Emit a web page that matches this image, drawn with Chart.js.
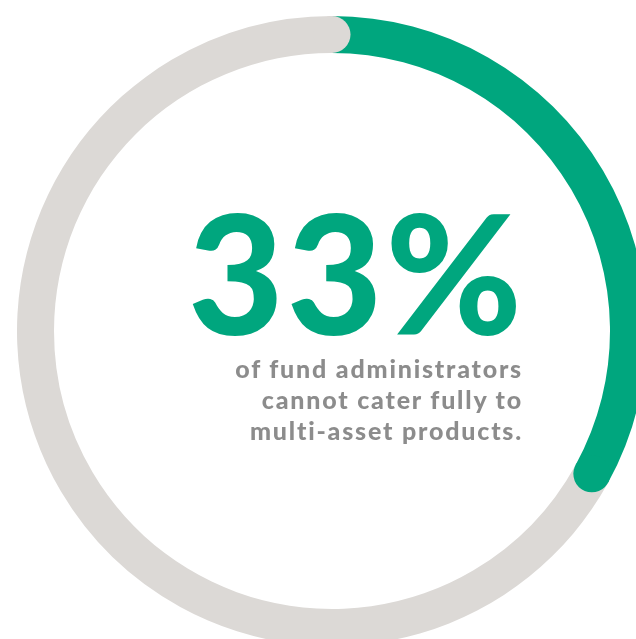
<!DOCTYPE html>
<html>
<head>
<meta charset="utf-8">
<script src="https://cdn.jsdelivr.net/npm/chart.js@4.4.1/dist/chart.umd.min.js"></script>
<style>
  html, body { margin: 0; padding: 0; background: #fff; }
  body { width: 636px; height: 639px; overflow: hidden; position: relative; }
  #ring { position: absolute; left: 17px; top: 16px; }
  .big {
    position: absolute; left: 188px; top: 189px;
    font-family: Lato, sans-serif; font-weight: 900; font-size: 165px;
    color: #00a67e; line-height: 1; letter-spacing: 3px;
  }
  .sub {
    position: absolute; right: 113px; top: 353px; text-align: right;
    font-family: Lato, sans-serif; font-weight: 900; font-size: 25px;
    line-height: 31px; color: #8c8c8c; letter-spacing: 1.8px;
  }
</style>
</head>
<body>
<canvas id="ring" width="630" height="630"></canvas>
<div class="big">33%</div>
<div class="sub">of fund administrators<br>cannot cater fully to<br>multi-asset products.</div>
<script>
// share of fund administrators
var labels = ['Cannot cater fully to multi-asset products', 'Can cater fully'];
var values = [33, 67];
var colours = ['#00a67e', '#dcd9d6'];

// rounded end on each segment, drawn over the start of the next one
var roundEnds = {
  id: 'roundEnds',
  afterDatasetsDraw: function (chart) {
    var ctx = chart.ctx;
    chart.getDatasetMeta(0).data.forEach(function (arc, i) {
      var p = arc.getProps(['x', 'y', 'endAngle', 'innerRadius', 'outerRadius']);
      var mid = (p.innerRadius + p.outerRadius) / 2;
      var r = (p.outerRadius - p.innerRadius) / 2;
      ctx.save();
      ctx.fillStyle = colours[i];
      ctx.beginPath();
      ctx.arc(p.x + Math.cos(p.endAngle) * mid, p.y + Math.sin(p.endAngle) * mid, r, 0, Math.PI * 2);
      ctx.fill();
      ctx.restore();
    });
  }
};

new Chart(document.getElementById('ring'), {
  type: 'doughnut',
  data: {
    labels: labels,
    datasets: [{
      data: values,
      backgroundColor: colours,
      borderWidth: 0
    }]
  },
  options: {
    responsive: false,
    animation: false,
    cutout: 278,
    layout: { padding: 0 },
    plugins: {
      legend: { display: false },
      tooltip: { enabled: false }
    }
  },
  plugins: [roundEnds]
});
</script>
</body>
</html>
